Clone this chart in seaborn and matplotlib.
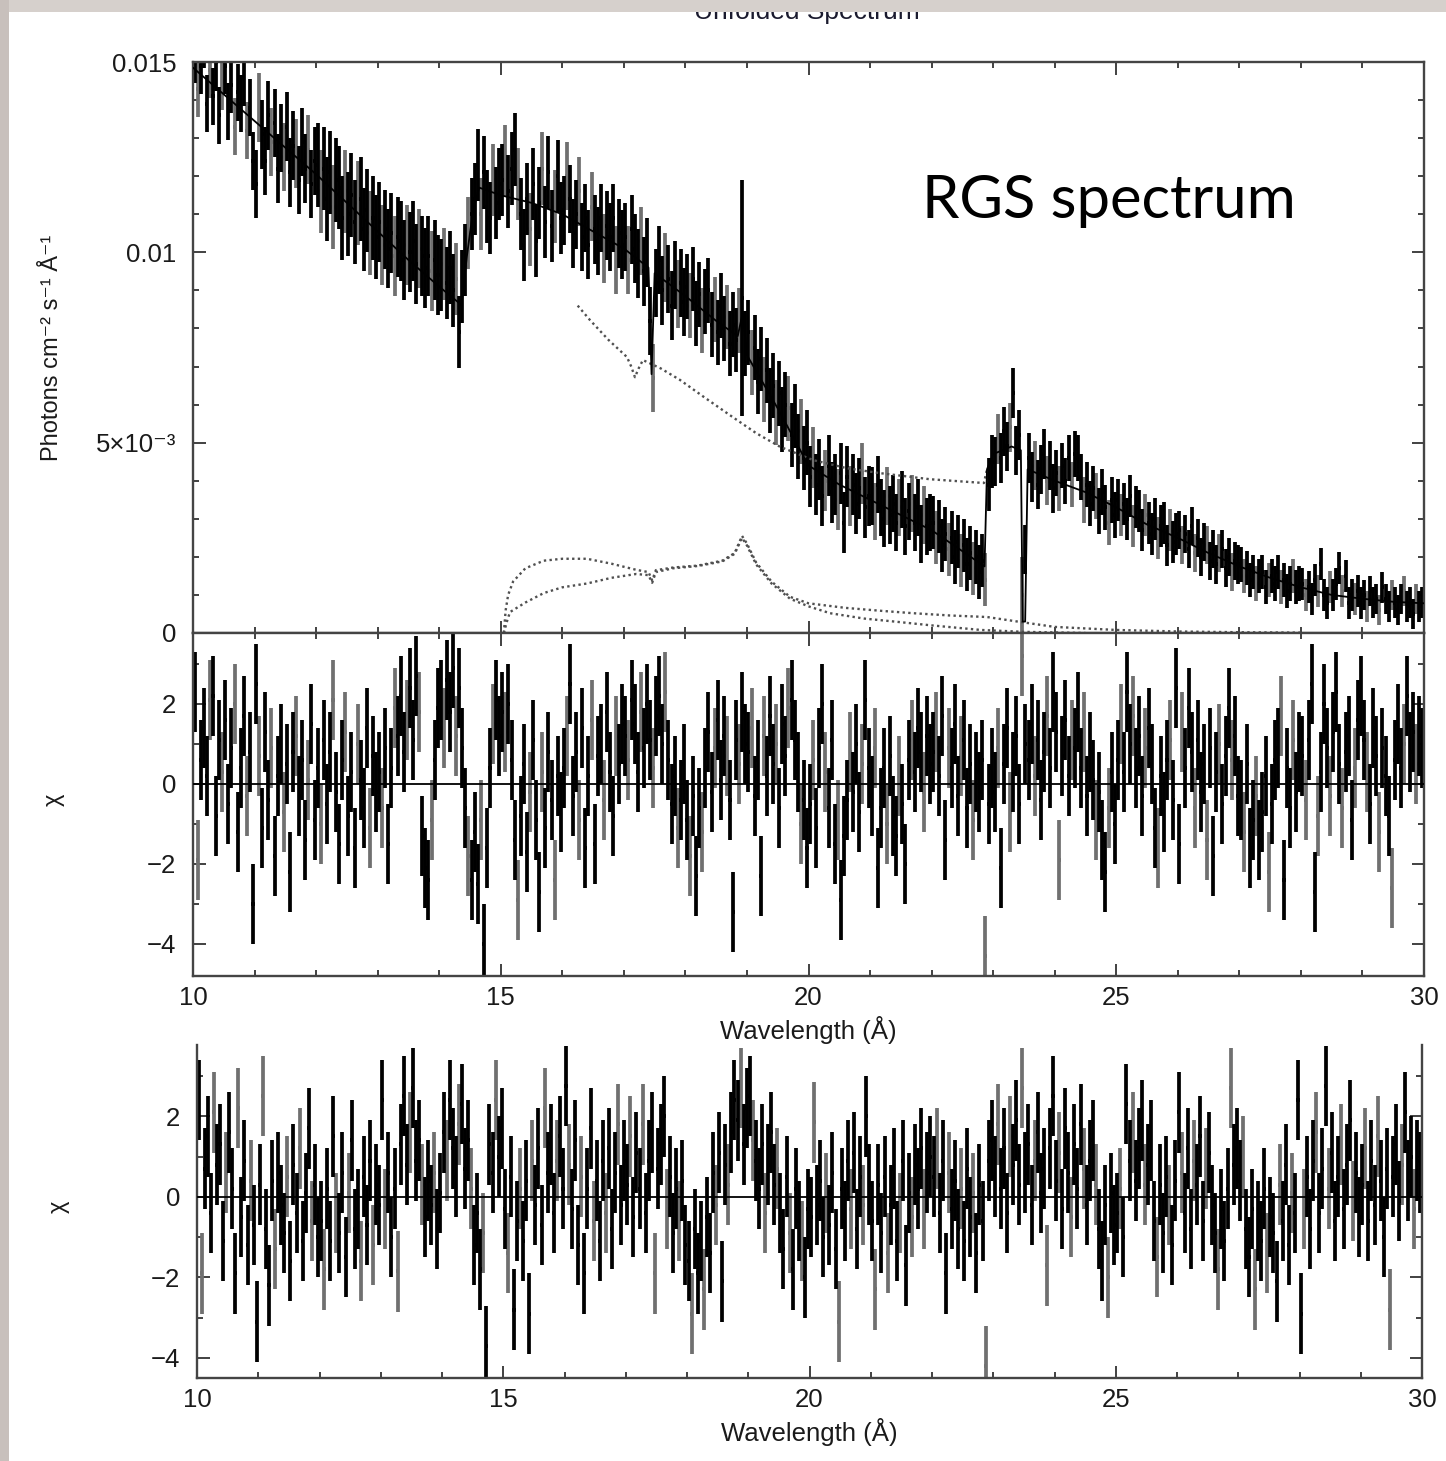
import numpy as np
import matplotlib
matplotlib.use("Agg")
import matplotlib.pyplot as plt
import seaborn as sns
from matplotlib.patches import Rectangle
from matplotlib.ticker import MultipleLocator, FixedLocator, FixedFormatter

# RGS bins, 0.05 A wide from 10 to 30 A
wave = np.round(np.arange(10.025, 30.0, 0.05), 3)

# unfolded flux, units of 1e-3 photons cm-2 s-1 A-1, one line per Angstrom
flux_e3 = [
    15.2, 14.3, 14.9, 15.6, 13.9, 14.8, 14.1, 15.0, 13.6, 14.5, 14.9, 13.7, 14.4, 13.3, 14.2, 13.9, 14.6, 13.2, 13.8, 12.4,
    11.8, 13.8, 13.1, 12.4, 13.6, 12.9, 13.4, 12.2, 13.0, 12.5, 13.3, 12.1, 12.8, 12.6, 11.9, 12.9, 12.2, 12.7, 11.8, 12.4,
    12.3, 11.6, 12.2, 11.4, 12.1, 11.2, 11.9, 11.7, 10.9, 11.6, 11.0, 11.5, 10.8, 11.3, 11.4, 10.6, 11.1, 10.5, 10.9, 10.4,
    10.8, 10.2, 10.6, 10.1, 10.5, 9.9, 10.4, 10.3, 9.8, 10.2, 10.0, 10.3, 9.7, 10.1, 9.9, 9.6, 9.9, 9.5, 9.8, 9.4,
    9.4, 9.7, 9.2, 9.6, 9.0, 9.3, 7.9, 9.1, 9.8, 10.5, 11.0, 11.4, 12.3, 11.0, 12.1, 11.2, 10.9, 11.9, 11.3, 11.8,
    11.9, 12.4, 11.6, 12.2, 12.7, 11.8, 11.0, 10.2, 11.4, 10.6, 11.8, 10.3, 11.3, 12.2, 10.8, 12.1, 10.7, 11.2, 12.0, 10.9,
    11.1, 12.0, 11.4, 10.5, 11.0, 11.6, 10.4, 10.9, 10.2, 11.2, 10.6, 10.3, 10.9, 10.1, 10.7, 10.4, 10.9, 9.8, 10.5, 10.2,
    10.4, 9.8, 10.6, 10.1, 9.7, 10.3, 9.5, 10.0, 8.2, 6.7, 9.2, 9.8, 9.0, 9.6, 9.3, 8.6, 9.4, 8.9, 9.2, 8.7,
    9.1, 8.6, 9.3, 8.4, 8.9, 8.2, 8.7, 9.0, 8.1, 8.5, 7.9, 8.6, 8.0, 8.3, 7.6, 8.1, 7.7, 8.2, 8.8, 7.6,
    7.9, 7.1, 7.5, 6.6, 7.2, 6.4, 6.9, 6.1, 6.5, 5.8, 6.3, 5.6, 6.0, 5.9, 5.2, 5.7, 4.9, 5.3, 4.6, 5.0,
    4.1, 4.6, 3.9, 4.3, 3.6, 4.0, 4.4, 3.7, 3.9, 3.5, 4.2, 2.9, 4.1, 3.6, 3.9, 3.4, 3.8, 4.2, 3.3, 3.6,
    3.6, 3.2, 3.9, 3.3, 3.0, 3.6, 3.1, 3.4, 2.9, 3.3, 3.5, 2.8, 3.2, 3.4, 2.9, 3.3, 2.6, 3.1, 2.8, 2.9,
    2.9, 2.5, 2.8, 2.3, 2.6, 2.2, 2.5, 2.0, 2.4, 1.9, 2.3, 1.8, 2.1, 1.7, 2.0, 1.6, 1.9, 1.4, 3.9, 4.5,
    4.5, 5.1, 4.6, 5.3, 4.9, 5.4, 6.3, 4.8, 5.2, 1.0, 2.2, 4.6, 4.1, 4.4, 3.9, 4.3, 4.7, 4.0, 4.4, 3.8,
    4.2, 3.8, 4.4, 4.0, 4.6, 3.9, 4.7, 4.6, 4.1, 3.5, 3.9, 3.4, 3.8, 3.6, 3.2, 3.7, 3.3, 2.9, 3.5, 3.1,
    3.5, 3.1, 3.4, 3.0, 3.6, 2.8, 3.3, 3.2, 2.7, 3.1, 2.9, 2.6, 3.0, 2.5, 2.8, 2.9, 2.3, 2.7, 2.4, 2.6,
    2.7, 2.3, 2.6, 2.2, 2.8, 2.1, 2.5, 2.0, 2.4, 2.3, 1.9, 2.2, 1.8, 2.1, 2.2, 1.7, 2.0, 1.6, 1.9, 1.8,
    1.8, 1.5, 1.7, 1.4, 1.6, 1.3, 1.5, 1.6, 1.2, 1.4, 1.5, 1.3, 1.6, 1.2, 1.4, 1.1, 1.3, 1.5, 1.2, 1.3,
    1.3, 1.0, 1.2, 0.9, 1.4, 1.1, 1.8, 1.0, 0.8, 1.2, 1.0, 1.3, 1.7, 1.1, 1.5, 0.8, 1.0, 0.9, 1.1, 0.8,
    1.0, 0.7, 1.1, 0.8, 0.9, 0.6, 1.2, 0.9, 0.7, 1.0, 0.8, 0.6, 0.9, 1.1, 0.7, 0.8, 0.5, 0.9, 0.7, 0.8,
]
# 1-sigma error per Angstrom (same units), plus a couple of odd bins
flux_err_e3 = [0.75, 0.9, 1.1, 1.05, 0.95, 0.95, 0.9, 0.9, 0.85, 0.85,
               0.8, 0.75, 0.7, 0.65, 0.6, 0.55, 0.5, 0.45, 0.42, 0.4]
flux_err_odd = {18.925: 3.1, 23.475: 1.0}

# residuals, top fit
chi_mid = [
    2.3, -1.9, 0.6, 1.4, 0.2, 2.1, 2.2, -0.8, 1.1, 0.3, 1.6, -0.5, 0.9, 2.0, -1.2, 0.4, 1.7, -0.3, 0.8, -3.0,
    2.5, 0.7, -1.1, 1.3, -0.4, 0.9, -1.8, 0.2, 1.0, -0.7, 0.5, -2.2, 0.8, 1.2, -0.3, 0.6, -1.4, 0.1, 1.5, -0.9,
    0.4, -1.0, 1.1, -0.5, 0.8, 2.1, -0.2, -1.5, 0.6, 1.3, -0.8, 0.3, -1.6, 1.0, 0.1, -0.6, 1.4, -1.1, 0.7, -0.2,
    0.3, -0.6, 0.9, -1.5, 0.4, 1.9, 1.2, 2.2, 0.8, 1.6, 2.4, 1.1, 2.7, 1.8, -1.3, -2.1, -2.4, -0.9, 0.6, 1.9,
    2.1, 1.4, 2.6, 1.8, 2.9, 1.2, 2.4, 0.9, -0.6, -1.8, -2.4, -1.2, -2.5, -0.9, -4.0, -1.6, 0.4, 1.5, 2.1, 1.2,
    1.8, 1.3, 2.0, 0.6, -1.4, -2.9, -0.8, 0.5, -1.7, -0.2, 1.1, -0.9, -2.7, 0.3, -1.1, 0.8, -0.4, -2.4, 0.2, -0.7,
    0.4, 1.2, 2.5, -0.3, 0.8, -0.9, 1.4, -1.6, 0.2, 1.6, -1.5, 0.7, 1.0, -0.4, 1.8, 0.3, -0.8, 1.2, 0.5, 1.5,
    1.2, 0.6, 2.1, 1.5, 0.3, 1.8, 0.9, 2.0, 1.1, 0.4, 1.7, 2.2, 1.0, 2.3, 0.6, -0.5, 0.2, -1.1, -0.4, 0.5,
    -0.9, -1.8, -0.3, -2.3, -0.6, -1.2, 0.4, 1.3, -0.2, 0.9, 1.6, 0.1, 1.2, 0.7, -0.4, -3.2, 1.1, 0.5, 1.8, 1.0,
    0.8, 1.4, -0.3, 0.6, -2.3, 1.2, 0.2, 1.7, 0.5, 1.0, -0.6, 1.5, 0.7, 1.9, 2.1, 1.1, 0.3, -1.0, -0.4, -1.6,
    -0.5, 0.6, -1.1, 0.9, 2.0, 0.3, -0.6, 1.1, -1.5, -0.9, -2.9, -1.3, -0.4, 0.8, -0.2, 1.0, -0.7, 0.5, 2.1, 0.4,
    -0.3, 0.9, -2.1, -0.6, 0.4, -1.0, 0.7, -0.8, -1.3, 0.2, -0.5, -2.0, 0.6, 1.1, 0.3, 1.4, 0.8, -0.2, 1.2, 0.5,
    0.8, 1.3, 0.2, 1.7, -1.4, 0.9, 0.4, 1.5, -0.3, 0.7, 1.1, -0.6, 0.5, -0.9, 0.3, -0.2, 0.6, -4.3, -0.5, 0.4,
    -0.2, 0.9, -2.1, 0.5, 1.4, -0.7, 0.3, 1.2, -0.5, 3.2, 1.0, 0.6, 1.5, 0.2, 1.1, -0.4, 0.8, 1.7, 0.4, 2.3,
    1.3, -1.9, 0.7, 1.6, 0.2, 1.1, 0.9, 1.8, 0.4, 1.3, -0.3, 0.8, 0.1, -0.9, -0.2, -1.4, -2.2, -0.6, 0.3, -1.0,
    0.6, 1.5, 0.3, 2.3, 1.0, 1.7, 0.4, 1.2, -0.3, 0.9, 1.4, 0.5, -1.1, -1.6, 0.2, -0.7, 0.6, 1.1, -0.4, 2.4,
    -1.5, 1.3, 0.4, 1.9, 0.8, -0.6, 1.1, -0.2, 0.5, -1.4, 0.9, -1.8, 0.3, 1.0, -0.5, 0.7, 1.9, 0.6, 1.2, -0.3,
    -0.4, -1.2, 0.5, -1.6, -0.9, -0.3, -1.4, -0.7, 0.2, -2.2, -0.5, 0.6, 0.9, 1.7, -2.4, 0.4, -0.6, 1.1, -0.2, 0.8,
    0.7, -0.4, 1.1, 2.5, -2.7, -0.8, 0.3, 2.0, 0.9, -0.3, 1.3, 2.3, 0.5, -0.6, 0.8, 1.2, -0.9, 0.4, 1.6, 2.2,
    1.1, 0.3, -0.5, 1.4, 0.7, -1.2, 0.9, 0.2, -0.8, -2.6, 0.6, 1.5, 0.4, 1.0, 2.2, 0.8, 1.3, 0.5, 1.2, 0.9,
]

# residuals, second fit
chi_low = [
    2.4, -1.9, 0.7, 1.5, -0.4, 2.1, 0.8, 1.3, -1.1, 0.6, 1.6, 0.2, -1.9, 2.2, -0.5, 0.9, -1.2, 0.4, -0.7, -3.1,
    0.3, 2.5, -0.8, -2.2, 0.4, -1.3, 0.6, -0.2, -0.9, 0.5, -1.6, 0.8, -0.4, 1.2, -1.1, 0.1, 1.7, -0.6, 0.3, -1.0,
    -0.6, -1.8, 0.2, -1.1, 1.5, -0.4, -0.9, 0.6, -1.5, 0.1, 1.4, -0.8, -0.3, -1.6, 0.5, -0.7, 0.9, -1.2, 0.3, -0.2,
    2.4, -0.3, 0.6, -1.0, 0.2, -1.85, 1.3, 2.5, 0.8, 1.6, 2.7, 0.9, 1.4, 0.3, -0.5, 0.4, -0.2, 0.6, -0.8, 0.1,
    1.6, 0.9, 2.4, 1.2, 0.5, 1.8, 2.3, 0.7, 1.4, 0.2, -1.2, -0.4, -1.8, -0.9, -3.7, 1.3, 0.6, 2.4, 1.0, 1.7,
    -0.3, -1.4, 0.5, -2.8, -0.6, 0.2, -1.1, 0.4, -2.9, 0.9, -0.2, 1.2, -0.7, 2.2, 0.6, 1.3, -0.4, 0.9, 1.5, 0.2,
    2.75, 0.8, -0.3, 1.4, -1.2, 0.5, -1.9, 0.2, 1.7, -0.6, 0.4, -1.1, 0.9, -0.4, 1.2, -0.8, 0.6, 1.8, -0.2, 0.9,
    0.3, 1.5, -0.5, 1.1, 0.2, 1.8, -0.4, 0.9, 1.6, -1.9, 0.7, 1.3, 2.0, -0.3, 0.5, -0.9, 0.2, -0.6, 0.4, -1.2,
    -1.6, -2.9, -0.8, -1.9, -1.1, -2.3, -0.5, -1.4, 0.6, -0.2, 1.1, -2.1, 0.8, 0.3, 1.6, 2.4, 1.9, 2.7, 1.3, 2.2,
    2.5, 1.4, 0.9, 0.2, 1.3, -0.4, 0.8, 1.6, 0.3, 0.7, -0.4, -1.3, 0.5, -0.9, -1.8, 0.2, -0.6, -1.1, -2.0, -0.3,
    -0.5, 1.85, -0.2, 0.4, -1.0, 0.1, -0.7, 0.6, -1.3, -3.1, 0.2, -0.6, 0.9, -0.3, 1.1, -0.8, 0.5, -0.2, 2.0, 0.3,
    -0.6, -2.3, 0.3, -0.9, 0.5, -1.4, -0.2, 0.7, -1.1, -0.4, 0.9, -1.7, 0.1, -0.5, 0.8, 0.2, 1.2, -0.3, 0.6, 1.0,
    0.5, 1.2, -0.4, 0.9, -1.9, 0.6, -0.3, 0.4, -0.8, 0.2, -1.1, 0.7, -0.5, 0.1, -1.4, 0.3, -0.6, -4.2, 0.9, 1.4,
    0.5, 1.8, 0.2, 1.2, -0.4, 1.5, 0.8, 1.9, 0.3, 2.7, 0.6, 1.3, -0.2, 0.9, 1.6, 0.1, 0.7, -1.7, 1.2, 2.5,
    0.4, 1.1, -0.3, 1.7, 0.6, -0.5, 1.3, 0.2, 1.8, 0.7, -0.2, 0.9, 1.4, 0.3, -0.8, -1.6, -0.2, -2.0, 0.1, -0.7,
    -0.4, 0.2, -1.0, 2.3, 0.9, 1.6, 0.4, 1.2, 1.9, 0.3, 0.8, 1.4, -0.6, -1.5, 0.3, -0.9, 0.5, -0.2, -1.2, 0.4,
    2.1, 0.6, -0.4, 1.2, -0.8, 0.9, 0.3, 1.5, -0.6, 0.7, 1.1, -0.2, -0.9, -1.8, -0.3, -1.1, 0.2, 2.7, 0.8, 1.2,
    0.4, 1.0, -0.8, -1.5, -0.3, -2.3, -0.6, -1.1, 0.2, -1.4, -0.5, -0.9, -2.1, 0.3, -0.6, 0.8, -1.2, 0.1, -0.4, 2.4,
    -2.9, -0.3, 0.5, -0.8, 0.9, 1.6, -0.4, 0.7, 2.75, 0.2, 1.1, -0.6, 0.5, 1.3, -0.3, 0.8, 1.9, -0.1, 0.6, -0.5,
    0.3, 1.2, -0.6, 0.9, -0.2, 1.5, 0.4, -1.0, 0.7, -2.8, 0.5, 1.3, -0.1, 0.8, 2.1, 0.4, 1.0, -0.3, 0.9, 0.6,
]

# total model
model_wave = [10.0, 10.5, 11.0, 11.5, 12.0, 12.5, 13.0, 13.5, 14.0, 14.3, 14.36, 14.45, 14.55, 14.65,
              15.0, 15.5, 16.0, 16.5, 17.0, 17.4, 17.45, 17.5, 18.0, 18.5, 18.85, 18.93, 19.0, 19.5,
              20.0, 20.5, 21.0, 21.5, 22.0, 22.5, 22.86, 22.9, 23.0, 23.3, 23.45, 23.48, 23.52, 23.56,
              24.0, 24.5, 25.0, 25.5, 26.0, 26.5, 27.0, 27.5, 28.0, 28.5, 29.0, 29.5, 30.0]
model_flux = [14.85, 14.15, 13.45, 12.75, 12.05, 11.3, 10.55, 9.8, 9.1, 8.7, 8.6, 9.9, 11.1, 11.7,
              11.5, 11.3, 11.0, 10.55, 10.1, 9.6, 6.8, 9.45, 8.85, 8.2, 7.8, 8.4, 7.3, 5.9,
              4.4, 3.9, 3.5, 3.1, 2.7, 2.15, 1.75, 4.3, 4.7, 4.9, 4.8, 0.3, 0.3, 4.3,
              4.0, 3.7, 3.3, 2.85, 2.5, 2.1, 1.75, 1.45, 1.2, 1.0, 0.9, 0.82, 0.78]

# dotted model components
cont_wave = [16.25, 16.45, 16.75, 17.05, 17.12, 17.18, 17.24, 17.31, 17.6, 17.91, 18.3, 18.77,
             19.15, 19.54, 20.08, 20.62, 21.16, 21.97, 22.5, 22.85, 22.9]
cont_flux = [8.6, 8.22, 7.7, 7.25, 7.0, 6.72, 6.95, 7.17, 6.95, 6.65, 6.2, 5.67,
             5.25, 4.89, 4.54, 4.33, 4.2, 4.04, 3.98, 3.94, 4.3]
line1_wave = [15.05, 15.08, 15.12, 15.2, 15.4, 15.7, 16.0, 16.4, 16.8, 17.2, 17.4, 17.46, 17.52,
              17.8, 18.2, 18.6, 18.8, 18.92, 19.0, 19.15, 19.4, 19.7, 20.0, 20.6, 21.2, 21.7,
              22.3, 22.9, 23.4, 24.0, 25.0, 26.0, 27.0, 28.0]
line1_flux = [0.0, 0.6, 1.0, 1.35, 1.7, 1.9, 1.95, 1.95, 1.82, 1.66, 1.6, 1.38, 1.65,
              1.72, 1.77, 1.9, 2.1, 2.55, 2.35, 1.85, 1.35, 0.95, 0.78, 0.66, 0.58, 0.52,
              0.46, 0.42, 0.3, 0.16, 0.08, 0.04, 0.02, 0.01]
line2_wave = [15.05, 15.1, 15.15, 15.4, 15.7, 16.0, 16.4, 16.8, 17.2, 17.4, 17.46, 17.52, 17.8,
              18.2, 18.6, 18.8, 18.92, 19.0, 19.15, 19.4, 19.7, 20.0, 20.35, 20.9, 21.4, 22.0,
              22.8, 23.5, 24.5]
line2_flux = [0.0, 0.3, 0.55, 0.8, 1.05, 1.2, 1.3, 1.45, 1.55, 1.52, 1.32, 1.6, 1.7,
              1.76, 1.88, 2.08, 2.5, 2.3, 1.8, 1.3, 0.9, 0.7, 0.52, 0.38, 0.3, 0.2,
              0.08, 0.03, 0.0]

sns.set_theme(style="ticks")
plt.rcParams['font.family'] = ['Liberation Sans', 'DejaVu Sans']
plt.rcParams['axes.unicode_minus'] = True

W, H = 1446, 1461
fig = plt.figure(figsize=(W / 100, H / 100), dpi=100)
ax1 = fig.add_axes([193 / W, 1 - 633 / H, 1231 / W, 571 / H])
ax2 = fig.add_axes([193 / W, 1 - 976 / H, 1231 / W, 343 / H])
ax3 = fig.add_axes([197 / W, 1 - 1378 / H, 1225 / W, 333 / H])

flux = np.array(flux_e3) * 1e-3
sig = np.repeat(flux_err_e3, 20) * 1e-3
for w, s in flux_err_odd.items():
    sig[np.isclose(wave, w)] = s * 1e-3

shade = np.arange(len(wave)) % 4 == 1


def bars(ax, y, err):
    y = np.asarray(y)
    err = np.broadcast_to(err, y.shape)
    ax.errorbar(wave[shade], y[shade], yerr=err[shade], xerr=0.025, fmt='none',
                ecolor='#707070', elinewidth=2.7, capsize=0, zorder=2)
    ax.errorbar(wave[~shade], y[~shade], yerr=err[~shade], xerr=0.025, fmt='none',
                ecolor='black', elinewidth=2.7, capsize=0, zorder=2)


def style(ax, ylim, major, minor):
    ax.set_xlim(10, 30)
    ax.set_ylim(*ylim)
    ax.xaxis.set_major_locator(MultipleLocator(5))
    ax.xaxis.set_minor_locator(MultipleLocator(1))
    ax.yaxis.set_major_locator(MultipleLocator(major))
    ax.yaxis.set_minor_locator(MultipleLocator(minor))
    ax.tick_params(which='both', direction='in', top=True, right=True, width=1.3,
                   color='#333333', labelsize=18.5, labelcolor='#1a1a1a')
    ax.tick_params(which='major', length=9)
    ax.tick_params(which='minor', length=4.5)
    ax.tick_params(axis='x', pad=7)
    ax.tick_params(axis='y', pad=12)
    for sp in ax.spines.values():
        sp.set_linewidth(1.7)
        sp.set_color('#444444')


# spectrum panel
bars(ax1, flux, sig)
for cw, cf in [(cont_wave, cont_flux), (line1_wave, line1_flux), (line2_wave, line2_flux)]:
    sns.lineplot(x=cw, y=np.array(cf) * 1e-3, ax=ax1, color='#505050', lw=1.7,
                 linestyle=(0, (1, 1.4)), sort=False, estimator=None, zorder=3)
sns.lineplot(x=model_wave, y=np.array(model_flux) * 1e-3, ax=ax1, color='black', lw=1.3,
             sort=False, estimator=None, zorder=4)
style(ax1, (0, 0.015), 0.005, 0.001)
ax1.yaxis.set_major_locator(FixedLocator([0, 0.005, 0.01, 0.015]))
ax1.yaxis.set_major_formatter(FixedFormatter(['0', '5×10⁻³', '0.01', '0.015']))
ax1.tick_params(labelbottom=False)
ax1.set_ylabel('Photons cm⁻² s⁻¹ Å⁻¹', fontsize=17, color='#1a1a1a')
ax1.yaxis.set_label_coords(-0.106, 0.5)

# residual panels
for ax, chi, ylim, lab_y in [(ax2, chi_mid, (-4.8, 3.775), -0.117), (ax3, chi_low, (-4.5, 3.77), -0.12)]:
    bars(ax, chi, 1.0)
    ax.axhline(0, color='black', lw=1.3, zorder=3)
    style(ax, ylim, 2, 1)
    ax.set_ylabel('χ', fontsize=17, color='#1a1a1a')
    ax.yaxis.set_label_coords(-0.104, 0.513)
    ax.set_xlabel('Wavelength (Å)', fontsize=18.5, color='#1a1a1a')
    ax.xaxis.set_label_coords(0.5, lab_y)

ax3.spines['top'].set_visible(False)
ax3.tick_params(which='both', top=False)

# slide decorations
fig.text(922 / W, 1 - 218 / H, 'RGS spectrum', fontsize=43, family=['Lato', 'DejaVu Sans'],
         ha='left', va='baseline', color='black')
fig.text(807 / W, 1 - 19 / H, 'Unfolded Spectrum', fontsize=19, ha='center', va='baseline',
         color='#1a1a2e', zorder=2)
fig.add_artist(Rectangle((0, 1 - 12 / H), 1, 12 / H, transform=fig.transFigure,
                         facecolor='#d6d0cc', edgecolor='none', zorder=10))
fig.add_artist(Rectangle((0, 0), 9 / W, 1, transform=fig.transFigure,
                         facecolor='#c8c0bc', edgecolor='none', zorder=10))

fig.savefig('out.png', dpi=100)
